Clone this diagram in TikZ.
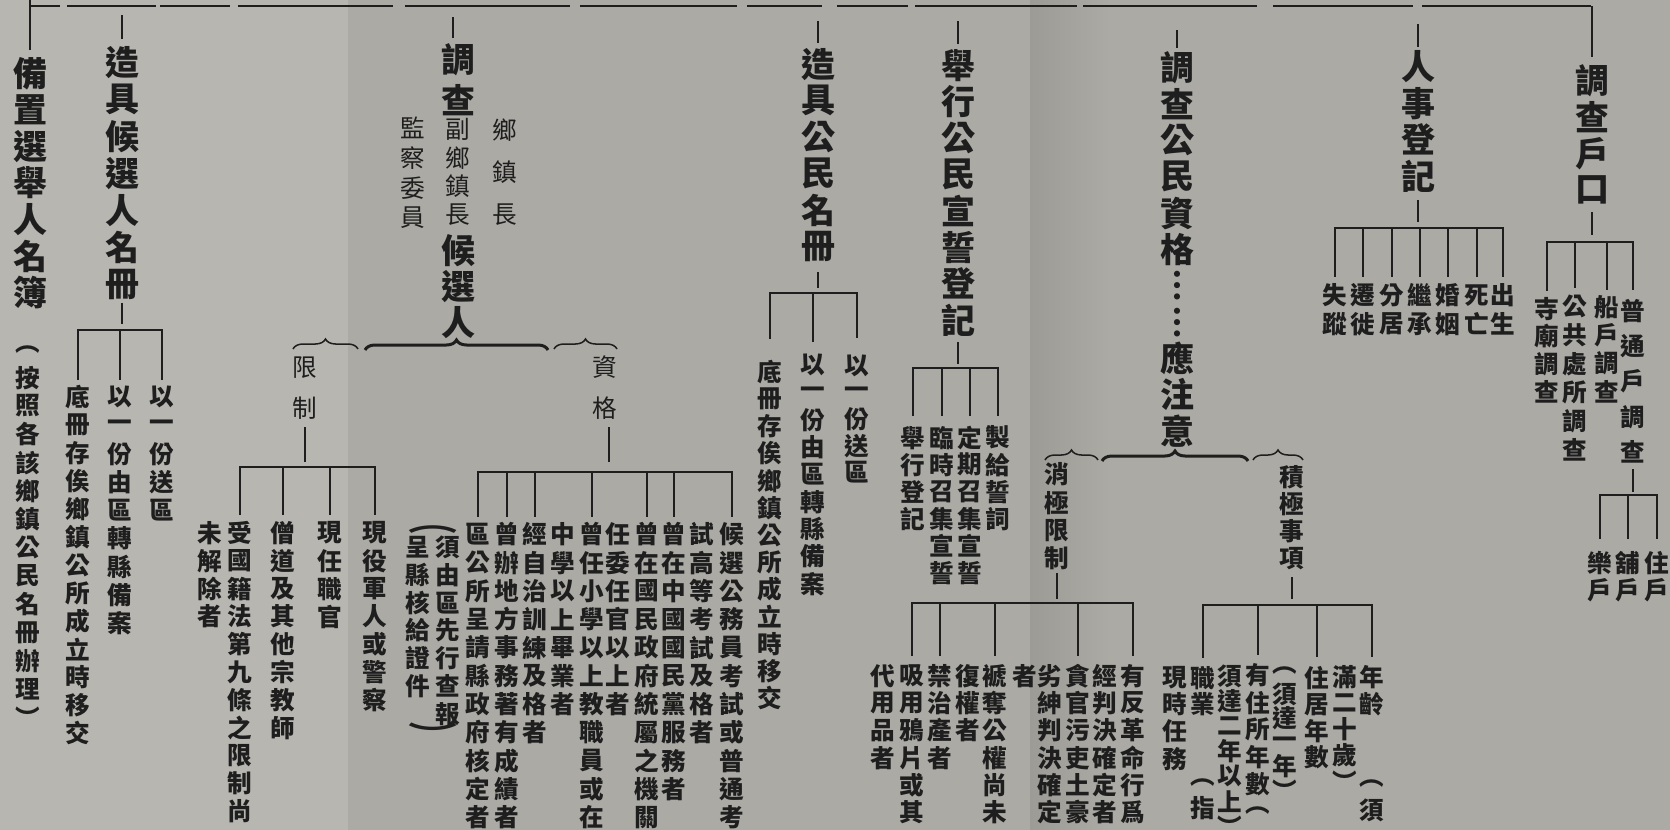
\documentclass[tikz,border=0pt]{standalone}
\usepackage{fontspec}
\setmainfont{Noto Sans CJK TC}
\usetikzlibrary{decorations.pathreplacing}
\definecolor{paper}{RGB}{171,170,165}
\definecolor{paperlt}{RGB}{183,182,177}
\definecolor{paperdk}{RGB}{156,155,150}
\definecolor{ink}{RGB}{30,30,30}
\newdimen\px \px=0.3mm
% vertical text: one cell of #1 px for every character of #2
\makeatletter
\newdimen\vt@pitch
\def\vt@stop{\vt@stop}
\newcommand{\vtext}[2]{\vbox{\offinterlineskip\vt@pitch=#1\px\expandafter\vt@loop#2\vt@stop}}
\def\vt@loop#1{\ifx#1\vt@stop\else\vbox to\vt@pitch{\vss\hbox to 0pt{\hss#1\hss}\vss}\expandafter\vt@loop\fi}
\makeatother

\begin{document}
\begin{tikzpicture}[x=0.3mm,y=-0.3mm,
	head/.style={anchor=north,inner sep=0pt,text=ink,font=\bfseries\fontsize{29pt}{29pt}\selectfont},
	note/.style={anchor=north,inner sep=0pt,text=ink,font=\fontsize{21pt}{21pt}\selectfont},
	item/.style={anchor=north,inner sep=0pt,text=ink,font=\bfseries\fontsize{21pt}{21pt}\selectfont},
	conn/.style={draw=ink,line width=0.7mm,line cap=rect},
	topline/.style={draw=ink,line width=0.85mm},
	bigbrace/.style={draw=ink,line width=0.9mm,decorate,decoration={brace,amplitude=3mm}},
	smallbrace/.style={draw=ink,line width=0.45mm,decorate,decoration={brace,amplitude=3mm}}]
	\fill[paper] (0,0) rectangle (1670,830);
	\fill[paperlt] (0,0) rectangle (348,830);
	\shade[left color=paperdk,right color=paper] (1030,0) rectangle (1110,830);
	\useasboundingbox (0,0) rectangle (1670,830);

	% first level
	\node[head] (h1) at (30,55) {\vtext{36.5}{備置選舉人名簿}};
	\node[item] (h1n) at (28,335) {\vtext{28.3}{︵按照各該鄉鎮公民名冊辦理︶}};
	\node[head] (h2) at (122,43.5) {\vtext{37}{造具候選人名冊}};
	\node[head] (h3a) at (458,40) {\vtext{40}{調查}};
	\node[note] (h3b) at (458,115) {\vtext{28.5}{副鄉鎮長}};
	\node[head] (h3c) at (458,232) {\vtext{36}{候選人}};
	\node[note] (h3r) at (505,109) {\vtext{42}{鄉鎮長}};
	\node[note] (h3l) at (413,112.5) {\vtext{30}{監察委員}};
	\node[head] (h4) at (818,45.75) {\vtext{36.5}{造具公民名冊}};
	\node[head] (h5) at (958,46.8) {\vtext{36.4}{舉行公民宣誓登記}};
	\node[head] (h6) at (1177,49.3) {\vtext{36.35}{調查公民資格︙︙應注意}};
	\node[head] (h7) at (1418,48.25) {\vtext{36.5}{人事登記}};
	\node[head] (h8) at (1592,62.8) {\vtext{36.3}{調查戶口}};

	% 造具候選人名冊
	\node[item] (c2a) at (162,383) {\vtext{28.25}{以一份送區}};
	\node[item] (c2b) at (120,383) {\vtext{28.25}{以一份由區轉縣備案}};
	\node[item] (c2c) at (78,383) {\vtext{28}{底冊存俟鄉鎮公所成立時移交}};

	% 候選人
	\node[note] (lim) at (305,347) {\vtext{40.5}{限制}};
	\node[note] (qual) at (605,347) {\vtext{40.5}{資格}};
	\node[item] (l1) at (375,519) {\vtext{27.8}{現役軍人或警察}};
	\node[item] (l2) at (330,519) {\vtext{27.8}{現任職官}};
	\node[item] (l3) at (283,519) {\vtext{27.8}{僧道及其他宗教師}};
	\node[item] (l4) at (240,519) {\vtext{27.8}{受國籍法第九條之限制尚}};
	\node[item] (l5) at (210,519) {\vtext{27.8}{未解除者}};
	\node[item] (q1) at (732,520) {\vtext{28.3}{候選公務員考試或普通考}};
	\node[item] (q2) at (702,520) {\vtext{28.3}{試高等考試及格者}};
	\node[item] (q3) at (674,520) {\vtext{28.3}{曾在中國國民黨服務者}};
	\node[item] (q4) at (647,520) {\vtext{28.3}{曾在國民政府統屬之機關}};
	\node[item] (q5) at (618,520) {\vtext{28.3}{任委任官以上者}};
	\node[item] (q6) at (592,520) {\vtext{28.3}{曾任小學以上教職員或在}};
	\node[item] (q7) at (563,520) {\vtext{28.3}{中學以上畢業者}};
	\node[item] (q8) at (535,520) {\vtext{28.3}{經自治訓練及格者}};
	\node[item] (q9) at (507,520) {\vtext{28.3}{曾辦地方事務著有成績者}};
	\node[item] (q10) at (478,520) {\vtext{28.3}{區公所呈請縣政府核定者}};
	\node[item] (q11) at (448,533) {\vtext{27.8}{須由區先行查報}};
	\node[item] (q12) at (418,533) {\vtext{27.8}{呈縣核給證件}};
	\node[item,anchor=center] (qp1) at (433,530) {\scalebox{2}[1]{︵}};
	\node[item,anchor=center] (qp2) at (433,733) {\scalebox{2}[1]{︶}};

	% 造具公民名冊
	\node[item] (c4a) at (857,352) {\vtext{26.75}{以一份送區}};
	\node[item] (c4b) at (813,351) {\vtext{27.4}{以一份由區轉縣備案}};
	\node[item] (c4c) at (770,358) {\vtext{27.2}{底冊存俟鄉鎮公所成立時移交}};

	% 舉行公民宣誓登記
	\node[item] (c5a) at (998,424) {\vtext{27}{製給誓詞}};
	\node[item] (c5b) at (970,424) {\vtext{27}{定期召集宣誓}};
	\node[item] (c5c) at (942,424) {\vtext{27}{臨時召集宣誓}};
	\node[item] (c5d) at (913,424) {\vtext{27}{舉行登記}};

	% 調查公民資格
	\node[item] (neg) at (1057,460.5) {\vtext{28}{消極限制}};
	\node[item] (pos) at (1292,463) {\vtext{27.3}{積極事項}};
	\node[item] (n1) at (1133,662) {\vtext{27.3}{有反革命行爲}};
	\node[item] (n2) at (1105,662) {\vtext{27.3}{經判決確定者}};
	\node[item] (n3) at (1078,662) {\vtext{27.3}{貪官污吏土豪}};
	\node[item] (n4) at (1050,662) {\vtext{27.3}{劣紳判決確定}};
	\node[item] (n5) at (1025,662) {\vtext{27.3}{者}};
	\node[item] (n6) at (995,662) {\vtext{27.3}{褫奪公權尚未}};
	\node[item] (n7) at (968,662) {\vtext{27.3}{復權者}};
	\node[item] (n8) at (940,662) {\vtext{27.3}{禁治產者}};
	\node[item] (n9) at (912,662) {\vtext{27.3}{吸用鴉片或其}};
	\node[item] (n10) at (883,662) {\vtext{27.3}{代用品者}};
	\node[item] (p1) at (1372,664) {\vtext{26.5}{年齡~~︵須}};
	\node[item] (p2) at (1345,664) {\vtext{26}{滿二十歲︶}};
	\node[item] (p3) at (1317,664) {\vtext{26.7}{住居年數}};
	\node[item] (p4) at (1285,658) {\vtext{24}{︵須達一年︶}};
	\node[item] (p5) at (1258,662) {\vtext{27}{有住所年數︵}};
	\node[item] (p6) at (1230,663.5) {\vtext{25}{須達二年以上︶}};
	\node[item] (p7) at (1203,665) {\vtext{26}{職業~~︵指}};
	\node[item] (p8) at (1175,663.4) {\vtext{27.2}{現時任務}};

	% 人事登記
	\node[item] (r1) at (1503,281) {\vtext{28.5}{出生}};
	\node[item] (r2) at (1477,281) {\vtext{28.5}{死亡}};
	\node[item] (r3) at (1448,281) {\vtext{28.5}{婚姻}};
	\node[item] (r4) at (1420,281) {\vtext{28.5}{繼承}};
	\node[item] (r5) at (1392,281) {\vtext{28.5}{分居}};
	\node[item] (r6) at (1363,281) {\vtext{28.5}{遷徙}};
	\node[item] (r7) at (1335,281) {\vtext{28.5}{失蹤}};

	% 調查戶口
	\node[item] (k1) at (1633,293.4) {\vtext{35.2}{普通戶調查}};
	\node[item] (k2) at (1607,293.5) {\vtext{28}{船戶調查}};
	\node[item] (k3) at (1575,292) {\vtext{28.7}{公共處所調查}};
	\node[item] (k4) at (1547,294.6) {\vtext{27.7}{寺廟調查}};
	\node[item] (k11) at (1657,549.5) {\vtext{27}{住戶}};
	\node[item] (k12) at (1628,549.5) {\vtext{27}{舖戶}};
	\node[item] (k13) at (1600,549.5) {\vtext{27}{樂戶}};

	% top line
	\draw[topline] (30,6) -- (60,6) (67,6) -- (156,6) (160,6) -- (230,6) (238,6) -- (393,6)
		(405,6) -- (570,6) (580,6) -- (737,6) (747,6) -- (822,6) (837,6) -- (908,6)
		(915,6) -- (1077,6) (1083,6) -- (1257,6) (1273,6) -- (1413,6) (1422,6) -- (1591,6);
	\draw[topline] (h1.north) ++(0,-5) -- (h1.north |- 0,0);
	\draw[topline] (h8.north) ++(0,-6) -- (h8.north |- 0,6);
	\draw[conn] (h2.north) ++(0,-6) -- (h2.north |- 0,16);
	\draw[conn] (h3a.north) ++(-5,-3) -- (453,18);
	\draw[conn] (h4.north) ++(0,-4) -- (h4.north |- 0,22);
	\draw[conn] (h5.north) ++(0,-4) -- (h5.north |- 0,22);
	\draw[conn] (h6.north) ++(0,-2) -- (h6.north |- 0,31);
	\draw[conn] (h7.north) ++(0,-2) -- (h7.north |- 0,25);

	% 造具候選人名冊
	\coordinate (b2) at (0,330);
	\draw[conn] (h2.south) ++(0,1) -- ++(0,19);
	\draw[conn] (c2c.north |- b2) -- (c2a.north |- b2)
		(c2a.north) ++(0,-4) -- (c2a.north |- b2)
		(c2b.north) ++(0,-4) -- (c2b.north |- b2)
		(c2c.north) ++(0,-4) -- (c2c.north |- b2);

	% braces
	\draw[bigbrace] (365,350) -- (548,350);
	\draw[smallbrace] (293,349) -- (358,349);
	\draw[smallbrace] (554,349) -- (617,349);
	\draw[smallbrace] (1045,460) -- (1098,460);
	\draw[bigbrace] (1102,461) -- (1248,461);
	\draw[smallbrace] (1253,460) -- (1303,460);

	% 限制 / 資格
	\coordinate (bl) at (0,467);
	\draw[conn] (lim.south) -- ++(0,32);
	\draw[conn] (l4.north |- bl) -- (l1.north |- bl)
		(l1.north) ++(0,-5) -- (l1.north |- bl)
		(l2.north) ++(0,-5) -- (l2.north |- bl)
		(l3.north) ++(0,-5) -- (l3.north |- bl)
		(l4.north) ++(0,-5) -- (l4.north |- bl);
	\coordinate (bq) at (0,472);
	\draw[conn] (qual.south) ++(4,0) -- ++(0,32);
	\draw[conn] (q10.north |- bq) -- (q1.north |- bq)
		(q1.north) ++(0,-4) -- (q1.north |- bq)
		(q3.north) ++(0,-4) -- (q3.north |- bq)
		(q4.north) ++(0,-4) -- (q4.north |- bq)
		(q6.north) ++(0,-4) -- (q6.north |- bq)
		(q8.north) ++(0,-4) -- (q8.north |- bq)
		(q9.north) ++(0,-4) -- (q9.north |- bq)
		(q10.north) ++(0,-4) -- (q10.north |- bq);

	% 造具公民名冊
	\coordinate (b4) at (0,293);
	\draw[conn] (h4.south) ++(0,8) -- ++(0,14);
	\draw[conn] (c4c.north |- b4) -- (c4a.north |- b4)
		(c4a.north) ++(0,-15) -- (c4a.north |- b4)
		(c4b.north) ++(0,-10) -- (c4b.north |- b4)
		(c4c.north) ++(0,-20) -- (c4c.north |- b4);

	% 舉行公民宣誓登記
	\coordinate (b5) at (0,368);
	\draw[conn] (h5.south) ++(0,5) -- ++(0,19);
	\draw[conn] (c5d.north |- b5) -- (c5a.north |- b5)
		(c5a.north) ++(0,-9) -- (c5a.north |- b5)
		(c5b.north) ++(0,-9) -- (c5b.north |- b5)
		(c5c.north) ++(0,-9) -- (c5c.north |- b5)
		(c5d.north) ++(0,-9) -- (c5d.north |- b5);

	% 消極限制 / 積極事項
	\coordinate (bn) at (0,603);
	\draw[conn] (neg.south) ++(0,1) -- ++(0,24);
	\draw[conn] (n9.north |- bn) -- (n1.north |- bn)
		(n1.north) ++(0,-7) -- (n1.north |- bn)
		(n3.north) ++(0,-7) -- (n3.north |- bn)
		(n6.north) ++(0,-7) -- (n6.north |- bn)
		(n8.north) ++(0,-7) -- (n8.north |- bn)
		(n9.north) ++(0,-7) -- (n9.north |- bn);
	\coordinate (bp) at (0,605);
	\draw[conn] (pos.south) ++(0,5) -- ++(0,20);
	\draw[conn] (p7.north |- bp) -- (p1.north |- bp)
		(p1.north) ++(0,-8) -- (p1.north |- bp)
		(p3.north) ++(0,-8) -- (p3.north |- bp)
		(p5.north) ++(0,-8) -- (p5.north |- bp)
		(p7.north) ++(0,-8) -- (p7.north |- bp);

	% 人事登記
	\coordinate (b7) at (0,228);
	\draw[conn] (h7.south) ++(0,6) -- ++(0,20);
	\draw[conn] (r7.north |- b7) -- (r1.north |- b7)
		(r1.north) ++(0,-5) -- (r1.north |- b7)
		(r2.north) ++(0,-5) -- (r2.north |- b7)
		(r3.north) ++(0,-5) -- (r3.north |- b7)
		(r4.north) ++(0,-5) -- (r4.north |- b7)
		(r5.north) ++(0,-5) -- (r5.north |- b7)
		(r6.north) ++(0,-5) -- (r6.north |- b7)
		(r7.north) ++(0,-5) -- (r7.north |- b7);

	% 調查戶口
	\coordinate (b8) at (0,242);
	\draw[conn] (h8.south) ++(0,5) -- ++(0,20);
	\draw[conn] (k4.north |- b8) -- (k1.north |- b8)
		(k1.north) ++(0,-5) -- (k1.north |- b8)
		(k2.north) ++(0,-5) -- (k2.north |- b8)
		(k3.north) ++(0,-5) -- (k3.north |- b8)
		(k4.north) ++(0,-5) -- (k4.north |- b8);
	\coordinate (b9) at (0,495);
	\draw[conn] (k1.south) -- ++(0,21);
	\draw[conn] (k13.north |- b9) -- (k11.north |- b9)
		(k11.north) ++(0,-12) -- (k11.north |- b9)
		(k12.north) ++(0,-12) -- (k12.north |- b9)
		(k13.north) ++(0,-12) -- (k13.north |- b9);
\end{tikzpicture}
\end{document}
